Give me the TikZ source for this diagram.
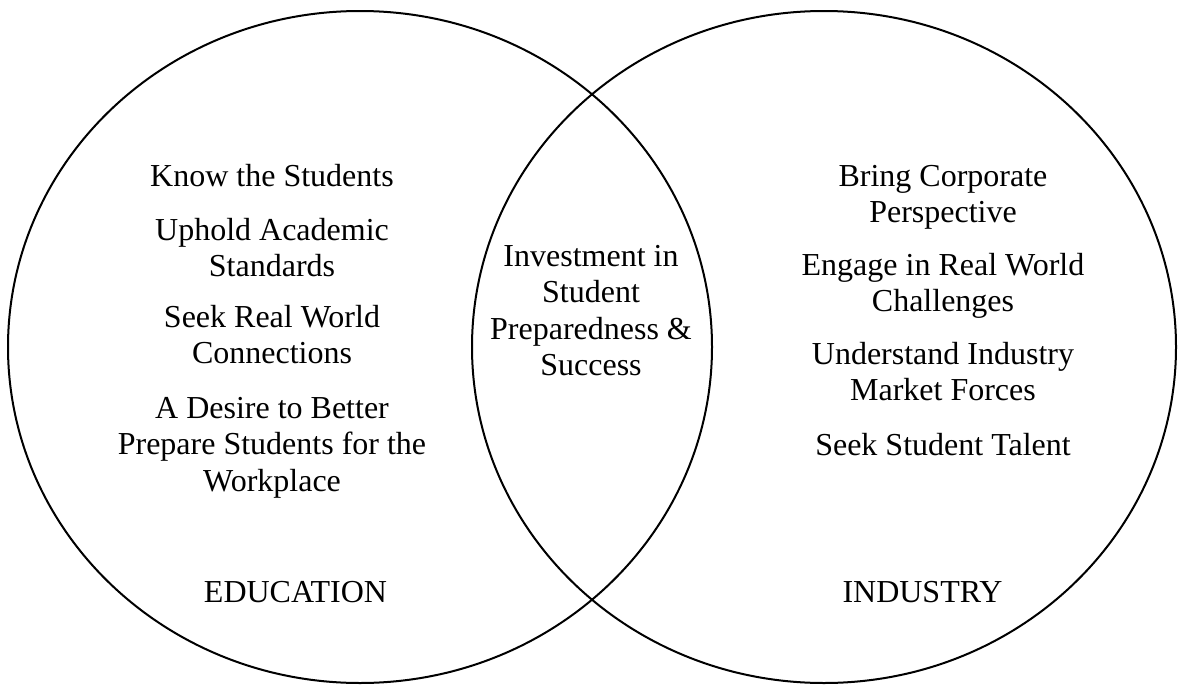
\documentclass[tikz,border=0pt]{standalone}
\usepackage{fontspec}
\setmainfont{Liberation Serif}
\usepackage{tikz}

\begin{document}
\begin{tikzpicture}[x=0.5pt, y=-0.5pt,
        item/.style={anchor=north, align=center, inner sep=0pt, font=\fontsize{16}{18.25}\selectfont},
        side/.style={anchor=base, inner sep=0pt, font=\fontsize{16}{18.25}\selectfont}]
                \useasboundingbox (0,0) rectangle (1178,685);
                \draw[line width=1pt] (360,347) ellipse [x radius=352, y radius=336];
                \draw[line width=1pt] (824,347) ellipse [x radius=352, y radius=336];
                % education side
                \node[item] (know) at (272,160.5) {\strut Know the Students};
                \node[item] (uphold) at (272,214.5) {\strut Uphold Academic\\Standards};
                \node[item] (seek) at (272,301.5) {\strut Seek Real World\\Connections};
                \node[item] (desire) at (272,392.5) {\strut A Desire to Better\\Prepare Students for the\\Workplace};
                % overlap
                \node[item] (invest) at (591,240.5) {\strut Investment in\\Student\\Preparedness \&\\Success};
                % industry side
                \node[item] (bring) at (943,160.5) {\strut Bring Corporate\\Perspective};
                \node[item] (engage) at (943,249.5) {\strut Engage in Real World\\Challenges};
                \node[item] (market) at (943,338.5) {\strut Understand Industry\\Market Forces};
                \node[item] (talent) at (943,429.5) {\strut Seek Student Talent};
                \node[side] (edu) at (295.5,602.5) {EDUCATION};
                \node[side] (ind) at (922.5,602.5) {INDUSTRY};
\end{tikzpicture}
\end{document}
